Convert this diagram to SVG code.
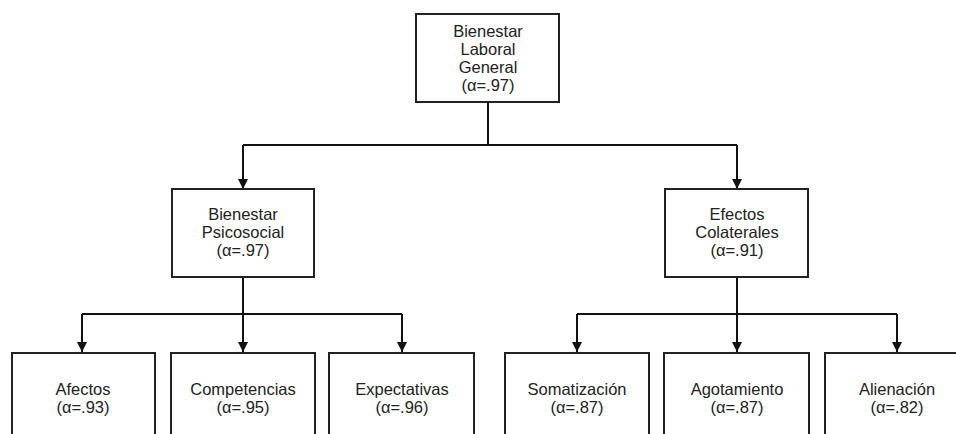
<svg xmlns="http://www.w3.org/2000/svg" width="956" height="434" viewBox="0 0 956 434">
<defs>
<marker id="arr" viewBox="0 0 10 10" refX="10" refY="5" markerWidth="10" markerHeight="10" markerUnits="userSpaceOnUse" orient="auto">
<path d="M0,0 L10,5 L0,10 Z" fill="#111"/>
</marker>
<style>
.box{fill:#fff;stroke:#222;stroke-width:2}
.t{font-family:"Liberation Sans",Arial,sans-serif;font-size:16.5px;fill:#222;text-anchor:middle}
.c{fill:none;stroke:#111;stroke-width:2}
</style>
</defs>
<rect width="956" height="434" fill="#fff"/>
<g id="connectors">
<path class="c" d="M488,102 V145"/>
<path class="c" d="M243,145 H737"/>
<path class="c" d="M243,145 V189" marker-end="url(#arr)"/>
<path class="c" d="M737,145 V189" marker-end="url(#arr)"/>
<path class="c" d="M243,277 V352" marker-end="url(#arr)"/>
<path class="c" d="M82,314 H402"/>
<path class="c" d="M82,314 V352" marker-end="url(#arr)"/>
<path class="c" d="M402,314 V352" marker-end="url(#arr)"/>
<path class="c" d="M737,277 V352" marker-end="url(#arr)"/>
<path class="c" d="M577,314 H897"/>
<path class="c" d="M577,314 V352" marker-end="url(#arr)"/>
<path class="c" d="M897,314 V352" marker-end="url(#arr)"/>
</g>
<g id="n-general">
<rect class="box" x="416" y="14" width="143" height="88"/>
<text class="t" x="488" y="37">Bienestar</text>
<text class="t" x="488" y="55">Laboral</text>
<text class="t" x="488" y="73">General</text>
<text class="t" x="488" y="91">(α=.97)</text>
</g>
<g id="n-psicosocial">
<rect class="box" x="172" y="189" width="142" height="88"/>
<text class="t" x="243" y="220">Bienestar</text>
<text class="t" x="243" y="238">Psicosocial</text>
<text class="t" x="243" y="256">(α=.97)</text>
</g>
<g id="n-colaterales">
<rect class="box" x="665" y="189" width="143" height="88"/>
<text class="t" x="737" y="220">Efectos</text>
<text class="t" x="737" y="238">Colaterales</text>
<text class="t" x="737" y="256">(α=.91)</text>
</g>
<g id="n-afectos">
<rect class="box" x="12" y="353" width="143" height="100"/>
<text class="t" x="83" y="395">Afectos</text>
<text class="t" x="83" y="413">(α=.93)</text>
</g>
<g id="n-competencias">
<rect class="box" x="171" y="353" width="144" height="100"/>
<text class="t" x="243" y="395">Competencias</text>
<text class="t" x="243" y="413">(α=.95)</text>
</g>
<g id="n-expectativas">
<rect class="box" x="329" y="353" width="145" height="100"/>
<text class="t" x="402" y="395">Expectativas</text>
<text class="t" x="402" y="413">(α=.96)</text>
</g>
<g id="n-somatizacion">
<rect class="box" x="505" y="353" width="144" height="100"/>
<text class="t" x="577" y="395">Somatización</text>
<text class="t" x="577" y="413">(α=.87)</text>
</g>
<g id="n-agotamiento">
<rect class="box" x="664" y="353" width="145" height="100"/>
<text class="t" x="737" y="395">Agotamiento</text>
<text class="t" x="737" y="413">(α=.87)</text>
</g>
<g id="n-alienacion">
<rect class="box" x="825" y="353" width="145" height="100"/>
<text class="t" x="897" y="395">Alienación</text>
<text class="t" x="897" y="413">(α=.82)</text>
</g>
</svg>
